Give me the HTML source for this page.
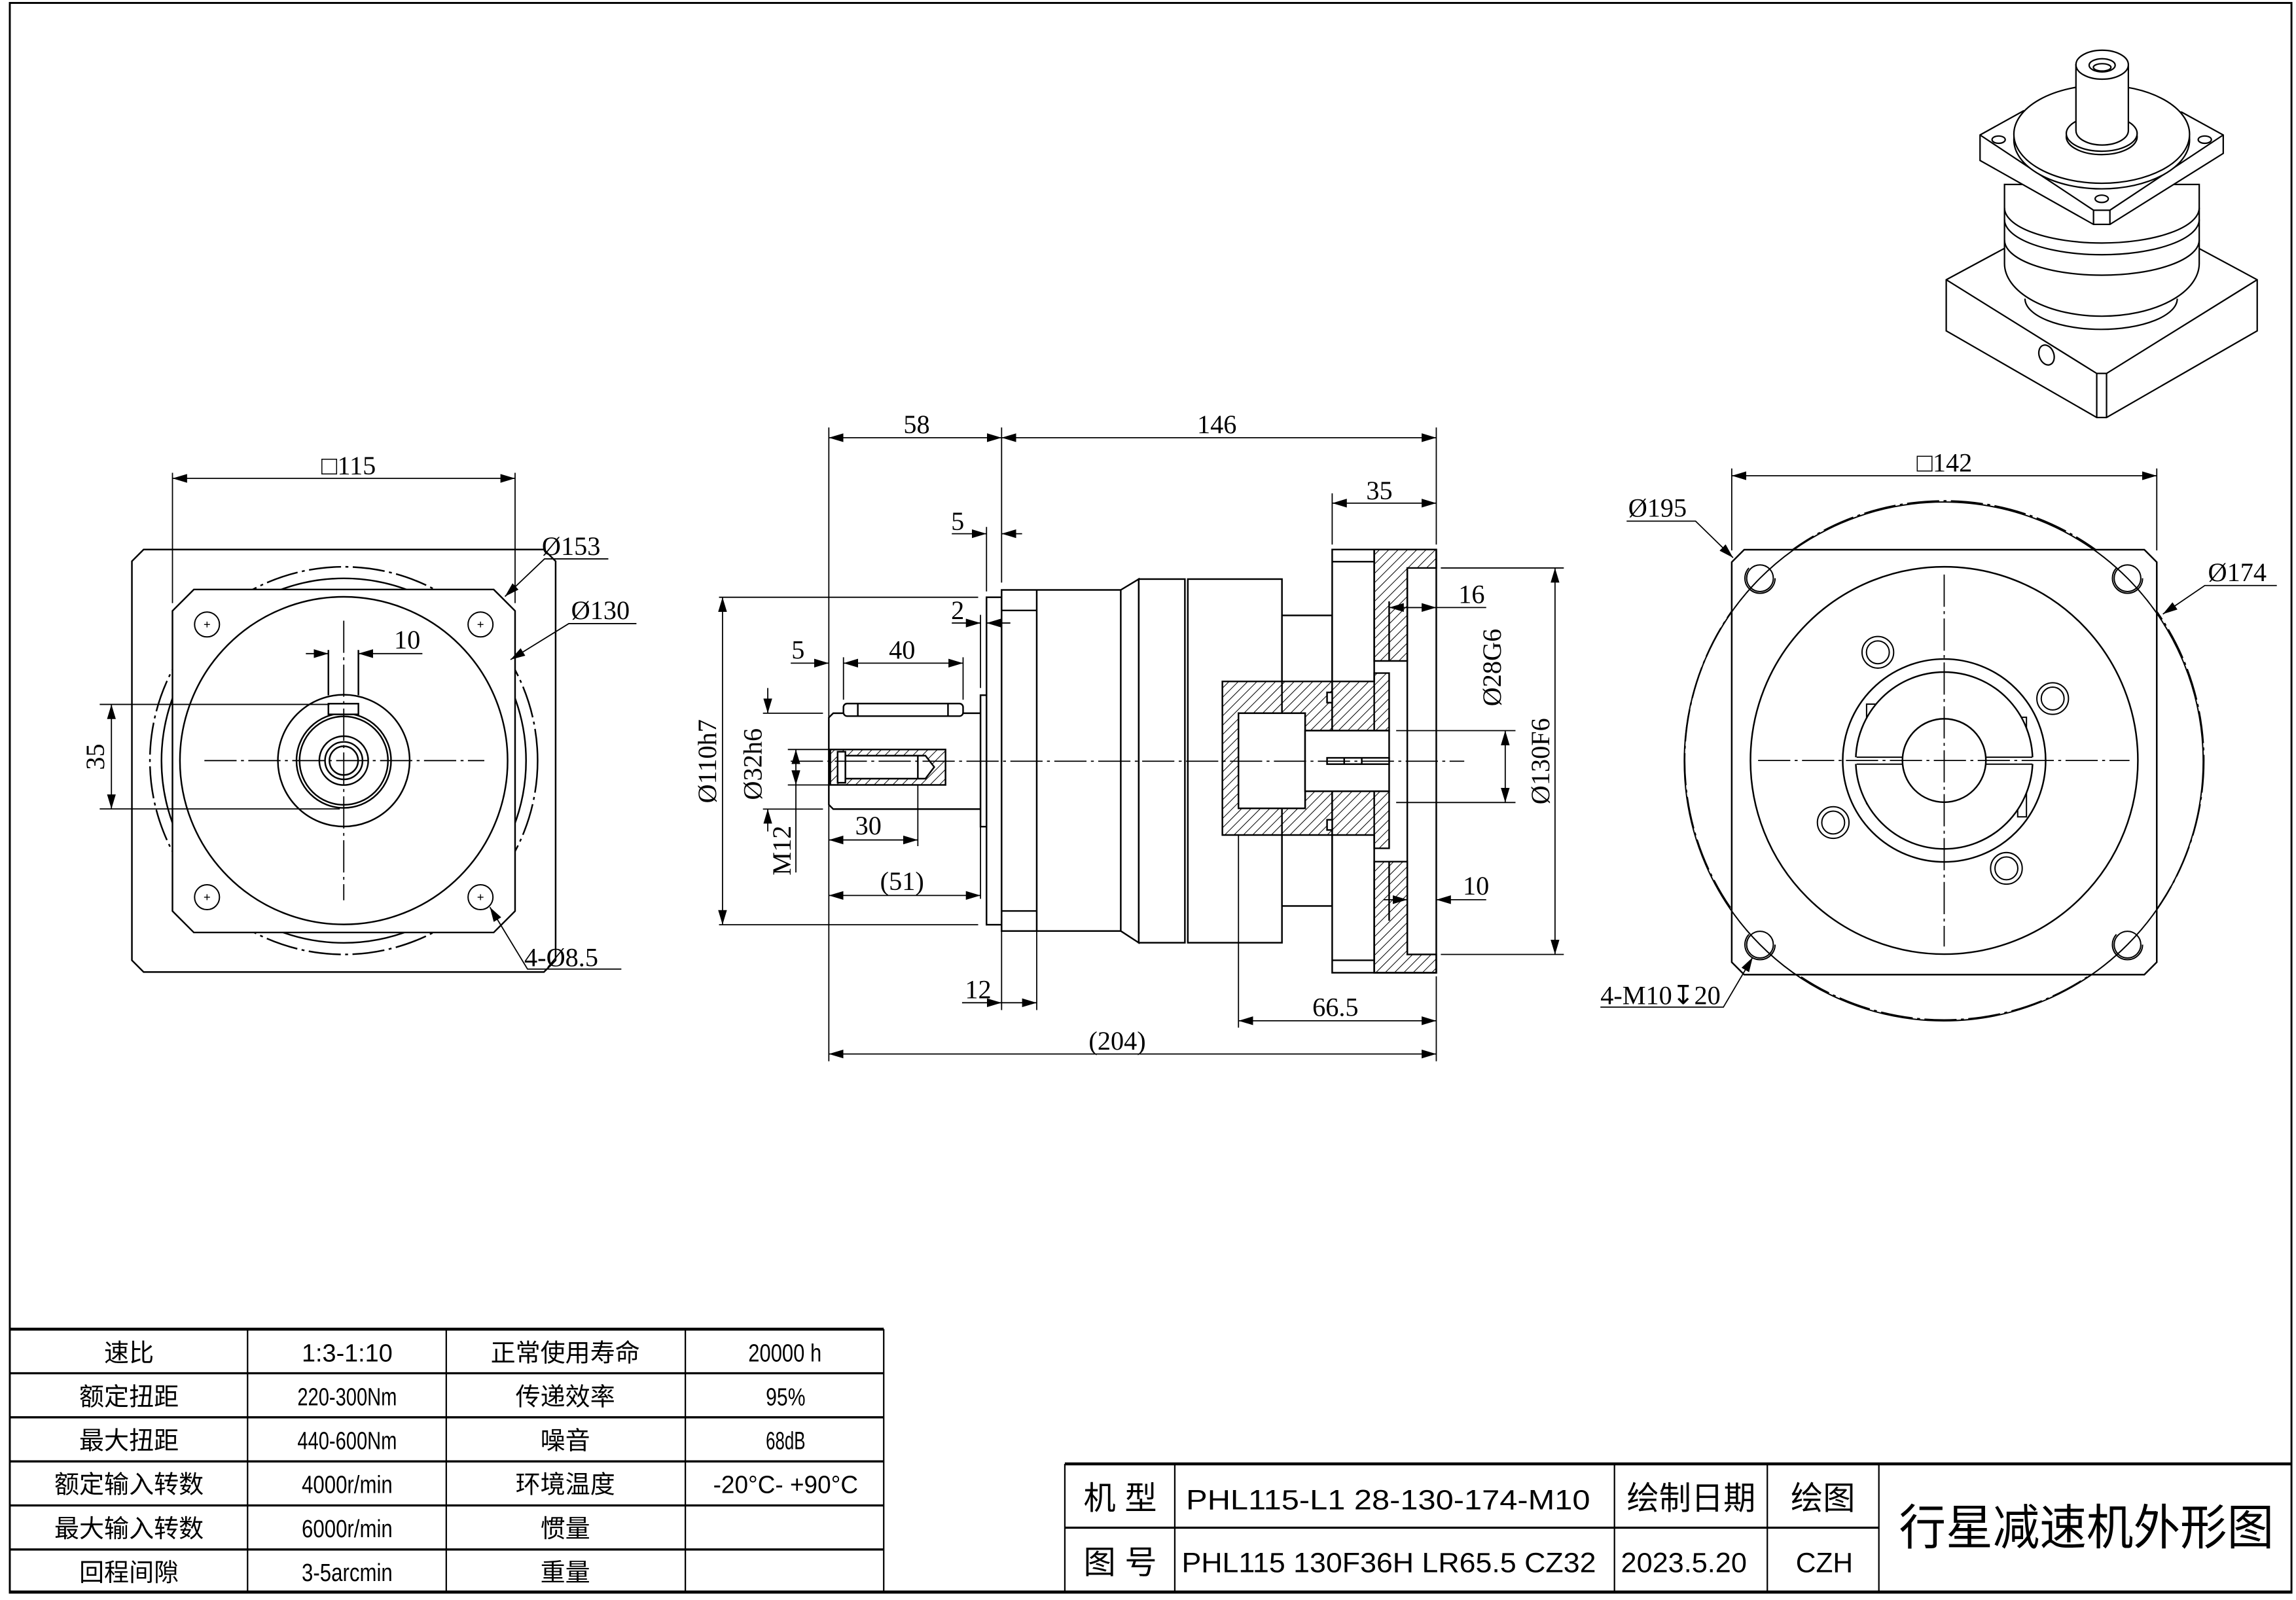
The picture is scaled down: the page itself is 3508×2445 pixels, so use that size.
<!DOCTYPE html>
<html><head><meta charset="utf-8"><style>
html,body{margin:0;padding:0;background:#fff;}
svg{display:block;}
text{font-family:"Liberation Serif","Noto Serif CJK SC",serif;fill:#000;}
.cj{font-family:"Liberation Sans","Noto Sans CJK SC",sans-serif;}
</style></head><body>
<svg xmlns="http://www.w3.org/2000/svg" width="3508" height="2445" viewBox="0 0 1568 1093">
<defs>
<marker id="a" viewBox="0 0 10 6" refX="10" refY="3" markerWidth="10" markerHeight="6" markerUnits="userSpaceOnUse" orient="auto-start-reverse"><path d="M0,0 L10,3 L0,6 z" fill="#000"/></marker>
<pattern id="h" width="4.5" height="10" patternUnits="userSpaceOnUse" patternTransform="rotate(45)"><line x1="0" y1="0" x2="0" y2="10" stroke="#000" stroke-width="0.9"/></pattern>
</defs>
<rect width="1568" height="1093" fill="#fff"/>
<g fill="none" stroke="#000" stroke-width="1.1">
<rect x="6.6" y="2" width="1558.4" height="1086" stroke-width="1.3"/>

<!-- LEFT VIEW -->
<path d="M98,375.4 L371.4,375.4 L379.4,383.4 L379.4,656 L371.4,664 L98,664 L90,656 L90,383.4 Z"/>
<circle cx="234.7" cy="519.6" r="132.4" stroke-dasharray="22 3 2 3"/>
<circle cx="234.7" cy="519.6" r="124.5"/>
<path d="M132.3,402.7 L337.1,402.7 L351.7,417.3 L351.7,622.4 L337.1,637 L132.3,637 L117.7,622.4 L117.7,417.3 Z" fill="#fff"/>
<circle cx="234.7" cy="519.6" r="111.9"/>
<circle cx="234.7" cy="519.6" r="45"/>
<circle cx="234.7" cy="519.6" r="32.3"/>
<circle cx="234.7" cy="519.6" r="30.2"/>
<circle cx="234.7" cy="519.6" r="16.7"/>
<circle cx="234.7" cy="519.6" r="12.8"/>
<circle cx="234.7" cy="519.6" r="9.8"/>
<rect x="224.2" y="480.7" width="20.5" height="7.3" fill="#fff"/>
<line x1="224.2" y1="444" x2="224.2" y2="475"/><line x1="244.7" y1="444" x2="244.7" y2="475"/>
<g stroke-width="0.9">
<circle cx="141.3" cy="426.6" r="8.5"/><circle cx="328.1" cy="426.6" r="8.5"/>
<circle cx="141.3" cy="612.9" r="8.5"/><circle cx="328.1" cy="612.9" r="8.5"/>
<path d="M139.3,426.6 h4 M141.3,424.6 v4 M326.1,426.6 h4 M328.1,424.6 v4 M139.3,612.9 h4 M141.3,610.9 v4 M326.1,612.9 h4 M328.1,610.9 v4" stroke-width="0.6"/>
</g>
<line x1="139.5" y1="519.6" x2="330.7" y2="519.6" stroke-width="0.8" stroke-dasharray="22 3 2 3"/>
<line x1="234.7" y1="424" x2="234.7" y2="615" stroke-width="0.8" stroke-dasharray="22 3 2 3"/>
<line x1="117.7" y1="323" x2="117.7" y2="412" stroke-width="0.8"/>
<line x1="351.7" y1="323" x2="351.7" y2="412" stroke-width="0.8"/>
<line x1="117.7" y1="326.8" x2="351.7" y2="326.8" stroke-width="0.8" marker-start="url(#a)" marker-end="url(#a)"/>
<line x1="208.8" y1="446.5" x2="224.2" y2="446.5" stroke-width="0.8" marker-end="url(#a)"/>
<line x1="288.4" y1="446.5" x2="244.7" y2="446.5" stroke-width="0.8" marker-end="url(#a)"/>
<line x1="68" y1="481.2" x2="225" y2="481.2" stroke-width="0.8"/>
<line x1="68" y1="552.6" x2="232" y2="552.6" stroke-width="0.8"/>
<line x1="76" y1="481.2" x2="76" y2="552.6" stroke-width="0.8" marker-start="url(#a)" marker-end="url(#a)"/>
<polyline points="415.4,381.8 371.8,381.8 344.8,407.5" stroke-width="0.8" marker-end="url(#a)"/>
<polyline points="434.6,426 388.4,426 348.6,450.6" stroke-width="0.8" marker-end="url(#a)"/>
<polyline points="424.3,662 360.2,662 334.5,619.7" stroke-width="0.8" marker-end="url(#a)"/>

<!-- MIDDLE VIEW -->
<polyline points="669.6,487.2 569,487.2 566,490.2 566,549.7 569,552.7 669.6,552.7"/>
<rect x="576" y="480.6" width="81.7" height="8.6" rx="2.5" fill="#fff"/>
<line x1="585.8" y1="480.6" x2="585.8" y2="489.2"/><line x1="647.4" y1="480.6" x2="647.4" y2="489.2"/>
<rect x="567" y="512" width="78.7" height="24.2" fill="url(#h)"/>
<polygon points="577.3,516.2 632,516.2 638,524 632,531.9 577.3,531.9" fill="#fff"/>
<rect x="572" y="513.5" width="5.3" height="21.2" fill="#fff"/>
<line x1="626.8" y1="516.2" x2="626.8" y2="531.9"/>
<rect x="669.6" y="474.9" width="4.1" height="89.8" fill="#fff"/>
<rect x="673.7" y="408" width="10.3" height="223.7" fill="#fff"/>
<rect x="684" y="403" width="81.4" height="233" fill="#fff"/>
<line x1="708" y1="403" x2="708" y2="636"/>
<line x1="684" y1="417" x2="708" y2="417"/><line x1="684" y1="622.3" x2="708" y2="622.3"/>
<polyline points="765.4,403 777.7,395.6 777.7,644 765.4,636"/>
<rect x="777.7" y="395.6" width="31.5" height="248.4" fill="#fff"/>
<rect x="811.2" y="395.6" width="64.3" height="248.4" fill="#fff"/>
<rect x="875.5" y="420.4" width="34.3" height="198.5" fill="#fff"/>
<rect x="909.8" y="375.4" width="71.1" height="289.1" fill="#fff"/>
<line x1="909.8" y1="383.7" x2="938.5" y2="383.7"/><line x1="909.8" y1="656" x2="938.5" y2="656"/>
<line x1="938.5" y1="375.4" x2="938.5" y2="664.5"/>
<polygon points="938.5,375.4 980.9,375.4 980.9,388 961.1,388 961.1,451.5 938.5,451.5" fill="url(#h)"/>
<polygon points="938.5,664.5 980.9,664.5 980.9,652 961.1,652 961.1,588.6 938.5,588.6" fill="url(#h)"/>
<line x1="948.7" y1="410.8" x2="948.7" y2="451.5"/><line x1="948.7" y1="588.6" x2="948.7" y2="629"/>
<line x1="961.1" y1="388" x2="961.1" y2="652"/>
<polygon points="834.8,465.5 938.5,465.5 938.5,459.8 948.7,459.8 948.7,499.1 891.3,499.1 891.3,487.2 845.8,487.2 845.8,552.2 891.3,552.2 891.3,540.5 948.7,540.5 948.7,579.5 938.5,579.5 938.5,570.4 834.8,570.4" fill="url(#h)"/>
<rect x="845.8" y="487.2" width="45.5" height="65" fill="#fff"/>
<rect x="891.3" y="499.1" width="57.4" height="41.4" fill="#fff"/>
<rect x="906.3" y="473" width="3.5" height="7" fill="#fff"/><rect x="906.3" y="560" width="3.5" height="7" fill="#fff"/>
<rect x="906.3" y="517.7" width="42.4" height="4.3" fill="#fff"/>
<line x1="918" y1="517.7" x2="918" y2="522"/><line x1="930" y1="517.7" x2="930" y2="522"/>
<line x1="540" y1="520" x2="1000" y2="520" stroke-width="0.8" stroke-dasharray="22 3 2 3"/>
<g stroke-width="0.8">
<line x1="566" y1="292" x2="566" y2="725"/>
<line x1="684" y1="292" x2="684" y2="398"/>
<line x1="980.9" y1="292" x2="980.9" y2="372"/>
<line x1="980.9" y1="667" x2="980.9" y2="725"/>
<line x1="566" y1="299" x2="684" y2="299" marker-start="url(#a)" marker-end="url(#a)"/>
<line x1="684" y1="299" x2="980.9" y2="299" marker-start="url(#a)" marker-end="url(#a)"/>
<line x1="909.8" y1="337" x2="909.8" y2="372"/>
<line x1="909.8" y1="343.7" x2="980.9" y2="343.7" marker-start="url(#a)" marker-end="url(#a)"/>
<line x1="673.7" y1="360" x2="673.7" y2="404"/>
<line x1="650" y1="364.6" x2="673.7" y2="364.6" marker-end="url(#a)"/>
<line x1="698" y1="364.6" x2="684" y2="364.6" marker-end="url(#a)"/>
<line x1="669.6" y1="420" x2="669.6" y2="470"/>
<line x1="650" y1="425.6" x2="669.6" y2="425.6" marker-end="url(#a)"/>
<line x1="690" y1="425.6" x2="673.7" y2="425.6" marker-end="url(#a)"/>
<line x1="576" y1="449" x2="576" y2="478"/>
<line x1="657.7" y1="449" x2="657.7" y2="478"/>
<line x1="540" y1="453" x2="566" y2="453" marker-end="url(#a)"/>
<line x1="576" y1="453" x2="657.7" y2="453" marker-start="url(#a)" marker-end="url(#a)"/>
<line x1="491" y1="408" x2="668" y2="408"/>
<line x1="491" y1="631.7" x2="668" y2="631.7"/>
<line x1="493.4" y1="408" x2="493.4" y2="631.7" marker-start="url(#a)" marker-end="url(#a)"/>
<line x1="521" y1="487.2" x2="562" y2="487.2"/>
<line x1="521" y1="552.7" x2="562" y2="552.7"/>
<line x1="524.3" y1="470" x2="524.3" y2="487.2" marker-end="url(#a)"/>
<line x1="524.3" y1="568" x2="524.3" y2="552.7" marker-end="url(#a)"/>
<line x1="538" y1="512" x2="567" y2="512"/>
<line x1="538" y1="536.2" x2="567" y2="536.2"/>
<line x1="543.5" y1="512" x2="543.5" y2="536.2" marker-start="url(#a)" marker-end="url(#a)"/>
<line x1="543.5" y1="536.2" x2="543.5" y2="596"/>
<line x1="626.8" y1="536" x2="626.8" y2="578"/>
<line x1="566" y1="573.8" x2="626.8" y2="573.8" marker-start="url(#a)" marker-end="url(#a)"/>
<line x1="669.6" y1="565" x2="669.6" y2="614"/>
<line x1="566" y1="611.7" x2="669.6" y2="611.7" marker-start="url(#a)" marker-end="url(#a)"/>
<line x1="684" y1="636" x2="684" y2="690"/>
<line x1="708" y1="636" x2="708" y2="690"/>
<line x1="657" y1="685" x2="684" y2="685" marker-end="url(#a)"/>
<line x1="684" y1="685" x2="708" y2="685" marker-end="url(#a)"/>
<line x1="845.8" y1="570" x2="845.8" y2="702"/>
<line x1="845.8" y1="697.3" x2="980.9" y2="697.3" marker-start="url(#a)" marker-end="url(#a)"/>
<line x1="566" y1="720" x2="980.9" y2="720" marker-start="url(#a)" marker-end="url(#a)"/>
<line x1="1015" y1="415" x2="948.7" y2="415" marker-end="url(#a)"/>
<line x1="961" y1="415" x2="980.9" y2="415" marker-end="url(#a)"/>
<line x1="945" y1="614.6" x2="961.1" y2="614.6" marker-end="url(#a)"/>
<line x1="1015" y1="614.6" x2="980.9" y2="614.6" marker-end="url(#a)"/>
<line x1="953.5" y1="499.1" x2="1035" y2="499.1"/>
<line x1="953.5" y1="548.2" x2="1035" y2="548.2"/>
<line x1="1028" y1="499.1" x2="1028" y2="548.2" marker-start="url(#a)" marker-end="url(#a)"/>
<line x1="984" y1="388" x2="1068" y2="388"/>
<line x1="984" y1="652" x2="1068" y2="652"/>
<line x1="1062" y1="388" x2="1062" y2="652" marker-start="url(#a)" marker-end="url(#a)"/>
</g>

<!-- RIGHT VIEW -->
<circle cx="1327.8" cy="519.5" r="177.3" stroke-dasharray="22 3 2 3"/>
<path d="M1191.2,375.5 L1464.5,375.5 L1473,384 L1473,657.3 L1464.5,665.8 L1191.2,665.8 L1182.7,657.3 L1182.7,384 Z" fill="#fff"/>
<path d="M1202,395 A177.3,177.3 0 0 1 1453,395 M1202,645.3 A177.3,177.3 0 0 0 1453,645.3 M1202,395 A177.3,177.3 0 0 0 1202,645.3 M1453,395 A177.3,177.3 0 0 1 1453,645.3" stroke-width="0.9"/>
<circle cx="1327.8" cy="519.5" r="132.3"/>
<circle cx="1327.8" cy="519.5" r="69.3"/>
<rect x="1274.8" y="481" width="7" height="36.5" stroke-width="0.9"/>
<rect x="1378" y="490" width="6" height="27.5" stroke-width="0.9"/>
<rect x="1274.8" y="522" width="7" height="27" stroke-width="0.9"/>
<rect x="1378" y="522" width="6" height="36" stroke-width="0.9"/>
<circle cx="1327.8" cy="519.5" r="60.4" fill="#fff"/>
<rect x="1266" y="517.3" width="124" height="4.6" fill="#fff" stroke="none"/>
<line x1="1268" y1="517.3" x2="1388" y2="517.3" stroke-width="0.9"/>
<line x1="1268" y1="522" x2="1388" y2="522" stroke-width="0.9"/>
<circle cx="1327.8" cy="519.5" r="28.5" fill="#fff"/>
<g stroke-width="0.9">
<circle cx="1282.5" cy="445.6" r="10.8"/><circle cx="1282.5" cy="445.6" r="7.8"/>
<circle cx="1401.9" cy="477.2" r="10.8"/><circle cx="1401.9" cy="477.2" r="7.8"/>
<circle cx="1252" cy="561.9" r="10.8"/><circle cx="1252" cy="561.9" r="7.8"/>
<circle cx="1370.3" cy="593.2" r="10.8"/><circle cx="1370.3" cy="593.2" r="7.8"/>
<circle cx="1202" cy="395" r="9.1"/><circle cx="1202" cy="395" r="10.3" stroke-dasharray="40 25"/>
<circle cx="1453" cy="395" r="9.1"/><circle cx="1453" cy="395" r="10.3" stroke-dasharray="40 25"/>
<circle cx="1202" cy="645.3" r="9.1"/><circle cx="1202" cy="645.3" r="10.3" stroke-dasharray="40 25"/>
<circle cx="1453" cy="645.3" r="9.1"/><circle cx="1453" cy="645.3" r="10.3" stroke-dasharray="40 25"/>
</g>
<line x1="1200.7" y1="519.5" x2="1454.4" y2="519.5" stroke-width="0.8" stroke-dasharray="22 3 2 3"/>
<line x1="1327.8" y1="392.5" x2="1327.8" y2="646.6" stroke-width="0.8" stroke-dasharray="22 3 2 3"/>
<g stroke-width="0.8">
<line x1="1182.7" y1="320" x2="1182.7" y2="376"/>
<line x1="1473" y1="320" x2="1473" y2="376"/>
<line x1="1182.7" y1="325" x2="1473" y2="325" marker-start="url(#a)" marker-end="url(#a)"/>
<polyline points="1110.9,356 1158,356 1183.6,381" marker-end="url(#a)"/>
<polyline points="1555,400 1505.8,400 1477.2,419.5" marker-end="url(#a)"/>
<polyline points="1093,688 1177,688 1197,654" marker-end="url(#a)"/>
</g>

<!-- ISOMETRIC -->
<g stroke-width="1">
<polygon points="1329.2,191.1 1368.7,169.8 1502,169.8 1541.6,191.1 1541.6,226 1438.7,285.2 1432,285.2 1329.2,226" fill="#fff"/>
<polyline points="1329.2,191.1 1432,255.1 1438.7,255.1 1541.6,191.1"/>
<line x1="1432" y1="255.1" x2="1432" y2="285.2"/><line x1="1438.7" y1="255.1" x2="1438.7" y2="285.2"/>
<ellipse cx="1397.7" cy="242.5" rx="5" ry="7" transform="rotate(-20 1397.7 242.5)"/>
<path d="M1383,204 A52,21 0 0 0 1487,204" fill="#fff"/>
<path d="M1369,126 L1369,180 A66.5,36 0 0 0 1502,180 L1502,126 Z" fill="#fff"/>
<path d="M1369,142 A66.5,24 0 0 0 1502,142"/>
<path d="M1369,150 A66.5,24 0 0 0 1502,150"/>
<path d="M1369,164 A66.5,24 0 0 0 1502,164"/>
<polygon points="1352.3,92.2 1382,75.7 1490,76.6 1518.4,92.2 1518.4,104.8 1441,153.3 1429.8,153.3 1352.3,109.6" fill="#fff"/>
<polyline points="1352.3,92.2 1429.8,143.6 1441,143.6 1518.4,92.2"/>
<line x1="1429.8" y1="143.6" x2="1429.8" y2="153.3"/><line x1="1441" y1="143.6" x2="1441" y2="153.3"/>
<ellipse cx="1365" cy="95.4" rx="4.5" ry="2.5"/><ellipse cx="1505.8" cy="95.4" rx="4.5" ry="2.5"/><ellipse cx="1435.4" cy="135.8" rx="4.5" ry="2.5"/>
<ellipse cx="1435.4" cy="95.5" rx="60" ry="33.5" fill="#fff"/>
<ellipse cx="1435.4" cy="91.7" rx="60" ry="33.5" fill="#fff"/>
<ellipse cx="1435.4" cy="93.5" rx="24.2" ry="12.1" fill="#fff"/>
<ellipse cx="1435.4" cy="91.2" rx="24.2" ry="12.1" fill="#fff"/>
<path d="M1417.8,44.2 L1417.8,89.2 A17.9,9.9 0 0 0 1453.6,89.2 L1453.6,44.2 Z" fill="#fff"/>
<ellipse cx="1435.7" cy="44.2" rx="17.9" ry="9.9" fill="#fff"/>
<ellipse cx="1435.7" cy="44.6" rx="8.9" ry="4.5"/>
<ellipse cx="1435.7" cy="46" rx="6" ry="2.5"/>
</g>

<!-- TABLES -->
<g stroke-width="1">
<line x1="6.6" y1="908" x2="603.5" y2="908" stroke-width="2"/>
<line x1="6.6" y1="938.1" x2="603.5" y2="938.1" stroke-width="1.5"/>
<line x1="6.6" y1="968.2" x2="603.5" y2="968.2" stroke-width="1.5"/>
<line x1="6.6" y1="998.3" x2="603.5" y2="998.3" stroke-width="1.5"/>
<line x1="6.6" y1="1028.4" x2="603.5" y2="1028.4" stroke-width="1.5"/>
<line x1="6.6" y1="1058.5" x2="603.5" y2="1058.5" stroke-width="1.5"/>
<line x1="169" y1="908" x2="169" y2="1087"/>
<line x1="304.7" y1="908" x2="304.7" y2="1087"/>
<line x1="468" y1="908" x2="468" y2="1087"/>
<line x1="603.5" y1="908" x2="603.5" y2="1087"/>
<line x1="727.2" y1="1000" x2="1565" y2="1000" stroke-width="2"/>
<line x1="727.2" y1="1043.6" x2="1283.2" y2="1043.6" stroke-width="1.5"/>
<line x1="727.2" y1="1000" x2="727.2" y2="1087"/>
<line x1="802.3" y1="1000" x2="802.3" y2="1087"/>
<line x1="1102.6" y1="1000" x2="1102.6" y2="1087"/>
<line x1="1207" y1="1000" x2="1207" y2="1087"/>
<line x1="1283.2" y1="1000" x2="1283.2" y2="1087"/>
<line x1="6.6" y1="1087.5" x2="1565" y2="1087.5" stroke-width="2"/>
</g>
</g>

<g font-size="18">
<text x="238" y="324" text-anchor="middle">□115</text>
<text x="278" y="443" text-anchor="middle">10</text>
<text transform="translate(71,517) rotate(-90)" text-anchor="middle">35</text>
<text x="370" y="379">Ø153</text>
<text x="390" y="423">Ø130</text>
<text x="358" y="660">4-Ø8.5</text>
<text x="626" y="296" text-anchor="middle">58</text>
<text x="831" y="296" text-anchor="middle">146</text>
<text x="942" y="341" text-anchor="middle">35</text>
<text x="654" y="362" text-anchor="middle">5</text>
<text x="654" y="423" text-anchor="middle">2</text>
<text x="545" y="450" text-anchor="middle">5</text>
<text x="616" y="450" text-anchor="middle">40</text>
<text x="593" y="570" text-anchor="middle">30</text>
<text x="616" y="608" text-anchor="middle">(51)</text>
<text x="668" y="682" text-anchor="middle">12</text>
<text x="912" y="694" text-anchor="middle">66.5</text>
<text x="763" y="717" text-anchor="middle">(204)</text>
<text x="1005" y="412" text-anchor="middle">16</text>
<text x="1008" y="611" text-anchor="middle">10</text>
<text transform="translate(489,520) rotate(-90)" text-anchor="middle">Ø110h7</text>
<text transform="translate(520,522) rotate(-90)" text-anchor="middle">Ø32h6</text>
<text transform="translate(540,581) rotate(-90)" text-anchor="middle">M12</text>
<text transform="translate(1025,456) rotate(-90)" text-anchor="middle">Ø28G6</text>
<text transform="translate(1058,520) rotate(-90)" text-anchor="middle">Ø130F6</text>
<text x="1328" y="322" text-anchor="middle">□142</text>
<text x="1112" y="353">Ø195</text>
<text x="1508" y="397">Ø174</text>
<text x="1093" y="686">4-M10↧20</text>
</g>

<g class="cj" font-size="17" text-anchor="middle">
<text class="cj" x="88" y="930">速比</text>
<text class="cj" x="88" y="960">额定扭距</text>
<text class="cj" x="88" y="990">最大扭距</text>
<text class="cj" x="88" y="1020">额定输入转数</text>
<text class="cj" x="88" y="1050">最大输入转数</text>
<text class="cj" x="88" y="1080">回程间隙</text>
<text class="cj" x="386" y="930">正常使用寿命</text>
<text class="cj" x="386" y="960">传递效率</text>
<text class="cj" x="386" y="990">噪音</text>
<text class="cj" x="386" y="1020">环境温度</text>
<text class="cj" x="386" y="1050">惯量</text>
<text class="cj" x="386" y="1080">重量</text>
</g>
<g class="cj" font-size="17">
<text class="cj" x="206" y="930" textLength="62" lengthAdjust="spacingAndGlyphs">1:3-1:10</text>
<text class="cj" x="203" y="960" textLength="68" lengthAdjust="spacingAndGlyphs">220-300Nm</text>
<text class="cj" x="203" y="990" textLength="68" lengthAdjust="spacingAndGlyphs">440-600Nm</text>
<text class="cj" x="206" y="1020" textLength="62" lengthAdjust="spacingAndGlyphs">4000r/min</text>
<text class="cj" x="206" y="1050" textLength="62" lengthAdjust="spacingAndGlyphs">6000r/min</text>
<text class="cj" x="206" y="1080" textLength="62" lengthAdjust="spacingAndGlyphs">3-5arcmin</text>
<text class="cj" x="511" y="930" textLength="50" lengthAdjust="spacingAndGlyphs">20000 h</text>
<text class="cj" x="523" y="960" textLength="27" lengthAdjust="spacingAndGlyphs">95%</text>
<text class="cj" x="523" y="990" textLength="27" lengthAdjust="spacingAndGlyphs">68dB</text>
<text class="cj" x="487" y="1020" textLength="99" lengthAdjust="spacingAndGlyphs">-20°C- +90°C</text>
</g>
<g class="cj" font-size="22">
<text class="cj" x="765" y="1031" text-anchor="middle">机 型</text>
<text class="cj" x="765" y="1075" text-anchor="middle">图 号</text>
<text class="cj" x="1155" y="1031" text-anchor="middle">绘制日期</text>
<text class="cj" x="1245" y="1031" text-anchor="middle">绘图</text>
</g>
<g class="cj" font-size="19">
<text class="cj" x="810" y="1031" textLength="276" lengthAdjust="spacingAndGlyphs">PHL115-L1 28-130-174-M10</text>
<text class="cj" x="807" y="1074" textLength="283" lengthAdjust="spacingAndGlyphs">PHL115  130F36H LR65.5 CZ32</text>
<text class="cj" x="1107" y="1074" textLength="86" lengthAdjust="spacingAndGlyphs">2023.5.20</text>
<text class="cj" x="1246" y="1074" text-anchor="middle">CZH</text>
</g>
<text class="cj" x="1425" y="1055" font-size="33" text-anchor="middle" textLength="256" lengthAdjust="spacingAndGlyphs">行星减速机外形图</text>
</svg>
</body></html>
